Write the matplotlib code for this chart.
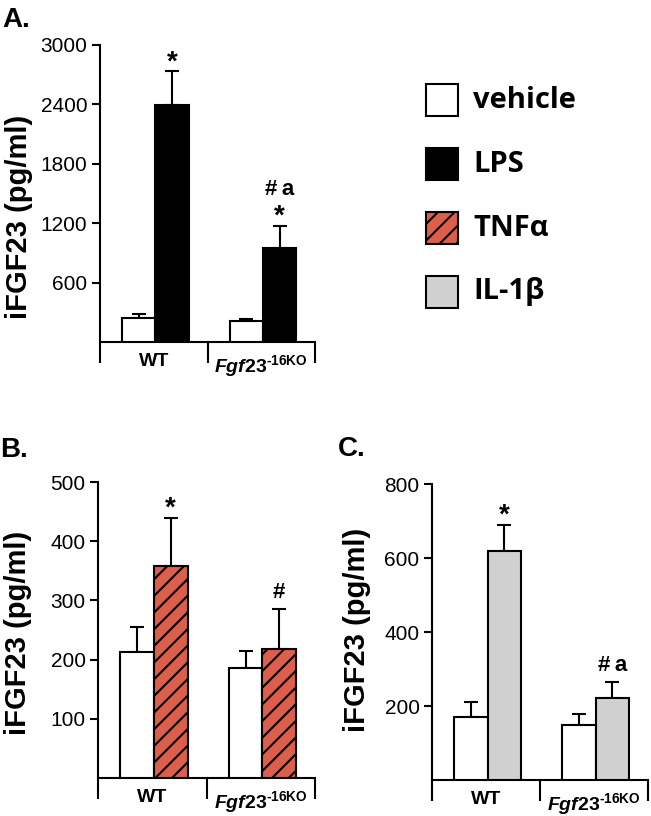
import matplotlib.pyplot as plt
import numpy as np
from matplotlib.patches import Rectangle

# data
groups = ['WT', r'$\mathit{Fgf23}^{\text{-16KO}}$']

a_vehicle = [242, 212]
a_vehicle_err = [41, 20]
a_lps = [2390, 950]
a_lps_err = [345, 222]
a_ticks = [600, 1200, 1800, 2400, 3000]
a_marks = [['*'], ['*', '#\u2009a']]     # bottom-up, per group

b_vehicle = [213, 186]
b_vehicle_err = [42, 29]
b_tnf = [358, 218]
b_tnf_err = [81, 68]
b_ticks = [100, 200, 300, 400, 500]
b_marks = [['*'], ['#']]

c_vehicle = [170, 149]
c_vehicle_err = [41, 29]
c_il1b = [619, 222]
c_il1b_err = [70, 43]
c_ticks = [200, 400, 600, 800]
c_marks = [['*'], ['#\u2009a']]

legend_labels = ['vehicle', 'LPS', 'TNFα', 'IL-1β']
legend_colors = ['white', 'black', '#DB5F4B', '#D0D0D0']
legend_hatch = ['', '', '//', '']

plt.rcParams['font.family'] = ['Liberation Sans', 'DejaVu Sans']
plt.rcParams['hatch.linewidth'] = 1.5
plt.rcParams['mathtext.fontset'] = 'custom'
plt.rcParams['mathtext.it'] = 'Liberation Sans:bold:italic'
plt.rcParams['mathtext.rm'] = 'Liberation Sans:bold'
plt.rcParams['mathtext.bf'] = 'Liberation Sans:bold'

W, H = 651, 816
fig = plt.figure(figsize=(W / 100, H / 100), dpi=100)


def px_axes(x0, x1, y0, y1):
    # pixel box -> figure fraction
    return fig.add_axes([x0 / W, 1 - y1 / H, (x1 - x0) / W, (y1 - y0) / H])


def panel(ax, veh, veh_err, trt, trt_err, color, hatch, ticks, marks):
    x = np.arange(len(groups))
    w = 0.31
    z = np.zeros(len(groups))
    ax.bar(x + 0.36, veh, w, color='white', edgecolor='black', lw=1.5, zorder=3)
    ax.bar(x + 0.67, trt, w, color=color, edgecolor='black', lw=1.5, hatch=hatch, zorder=3)
    ax.errorbar(x + 0.36, veh, yerr=[z, veh_err], fmt='none', ecolor='black',
                elinewidth=1.5, capsize=5, capthick=1.5, zorder=2, clip_on=False)
    ax.errorbar(x + 0.67, trt, yerr=[z, trt_err], fmt='none', ecolor='black',
                elinewidth=1.5, capsize=5, capthick=1.5, zorder=2, clip_on=False)
    for i, lines in enumerate(marks):
        top = trt[i] + trt_err[i]
        off = 0
        for j, s in enumerate(lines):
            if j == 0:
                off = 1.5 if s == '*' else 8
            else:
                off += 21
            fs = 20 if s == '*' else 16
            ax.annotate(s, (x[i] + 0.67, top), xytext=(0, off), textcoords='offset points',
                        ha='center', va='baseline', fontsize=fs, fontweight='bold',
                        annotation_clip=False)
    ax.set_xlim(0, len(groups))
    ax.set_ylim(0, ticks[-1])
    ax.set_yticks(ticks)
    ax.tick_params(axis='y', direction='out', length=6, width=1.5, labelsize=15, pad=3)
    ax.set_xticks(np.arange(len(groups) + 1))
    ax.set_xticklabels([])
    ax.set_xticks(x + 0.5, minor=True)
    ax.set_xticklabels(groups, minor=True, fontsize=14, fontweight='bold')
    ax.tick_params(axis='x', which='major', direction='out', length=15, width=1.5)
    ax.tick_params(axis='x', which='minor', length=0, pad=8)
    for s in ['top', 'right']:
        ax.spines[s].set_visible(False)
    for s in ['left', 'bottom']:
        ax.spines[s].set_linewidth(1.5)


ax_a = px_axes(100, 315, 45, 342)
panel(ax_a, a_vehicle, a_vehicle_err, a_lps, a_lps_err, 'black', '', a_ticks, a_marks)
ax_b = px_axes(98, 315, 482, 778)
panel(ax_b, b_vehicle, b_vehicle_err, b_tnf, b_tnf_err, '#DB5F4B', '//', b_ticks, b_marks)
ax_c = px_axes(432, 648, 484, 780)
panel(ax_c, c_vehicle, c_vehicle_err, c_il1b, c_il1b_err, '#D0D0D0', '', c_ticks, c_marks)

# y labels and panel letters
for xc, yc in [(19, 217), (18, 633), (357, 630)]:
    fig.text(xc / W, 1 - yc / H, 'iFGF23 (pg/ml)', rotation=90, ha='center', va='center',
             fontsize=21, fontweight='bold')
for s, xl, yc in [('A.', 2, 20), ('B.', 0, 450), ('C.', 338, 449)]:
    fig.text(xl / W, 1 - yc / H, s, ha='left', va='center', fontsize=20, fontweight='bold')

# legend
for i, lab in enumerate(legend_labels):
    yc = 100 + 64 * i
    fig.add_artist(Rectangle((426 / W, 1 - (yc + 16) / H), 32 / W, 32 / H,
                             transform=fig.transFigure, facecolor=legend_colors[i],
                             edgecolor='black', lw=1.5, hatch=legend_hatch[i]))
    fig.text(473 / W, 1 - yc / H, lab, ha='left', va='center', fontsize=21,
             fontweight='bold', family=['Open Sans', 'DejaVu Sans'])

fig.savefig('out.png', dpi=100)
